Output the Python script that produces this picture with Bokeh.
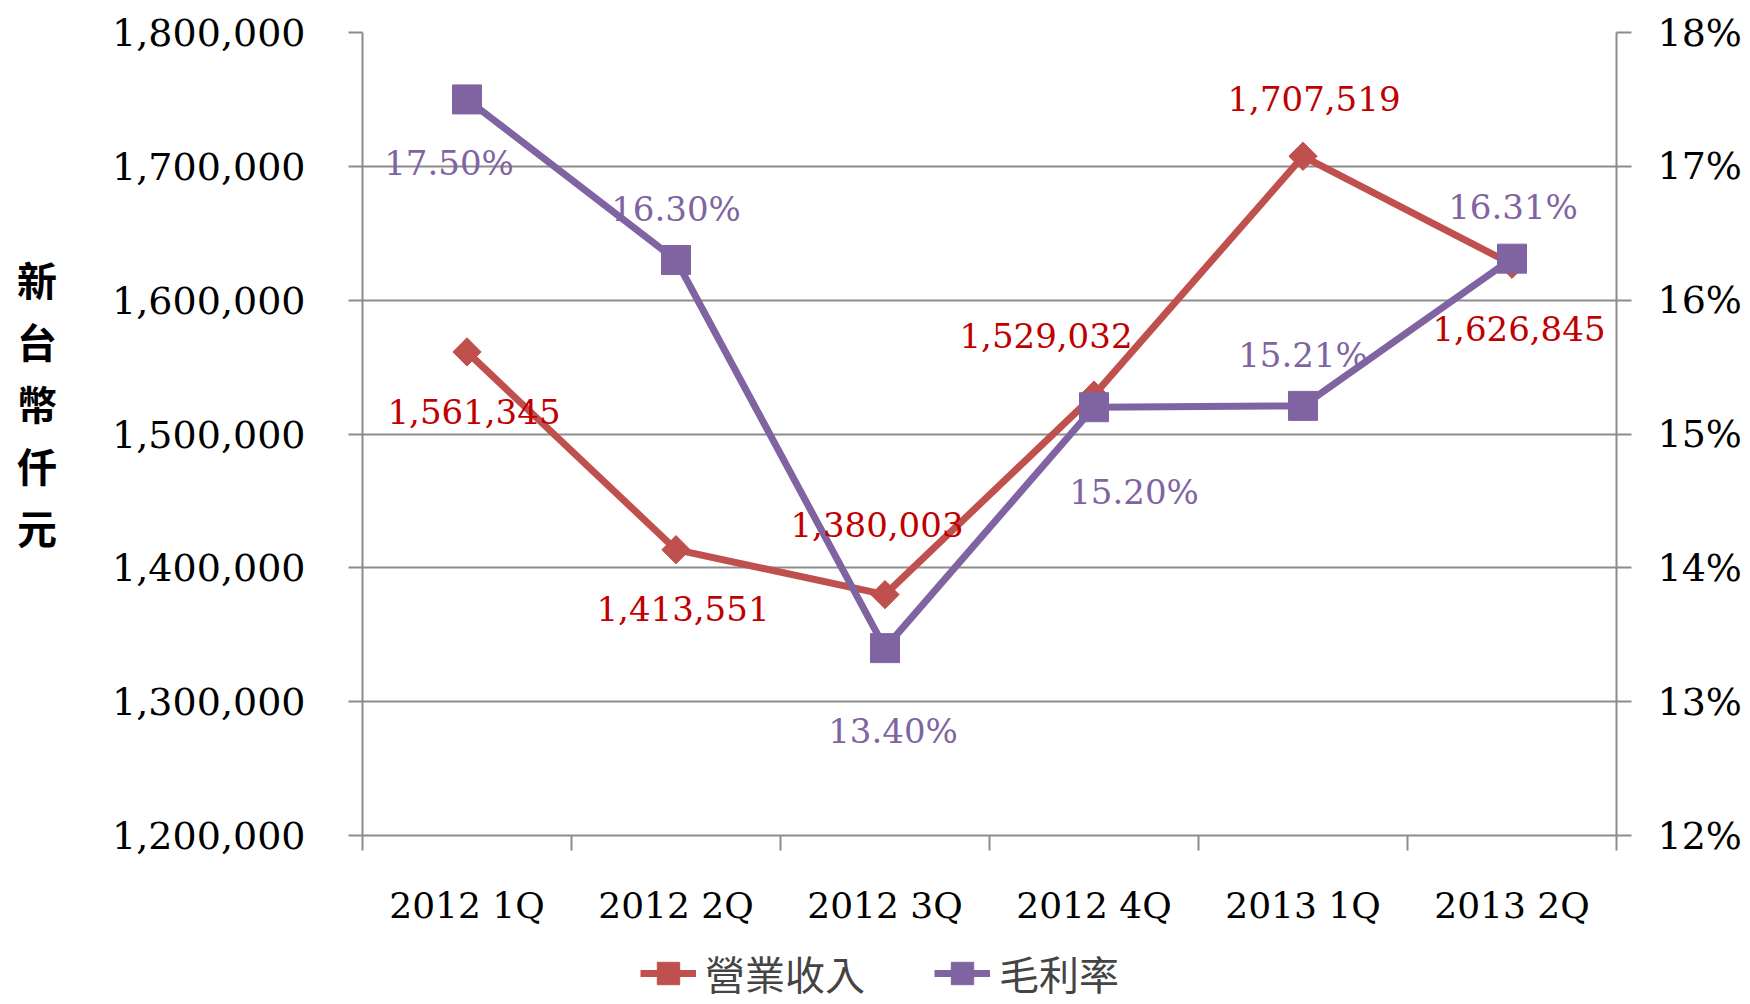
import numpy as np
from bokeh.plotting import figure
from bokeh.layouts import column
from bokeh.models import (Range1d, LinearAxis, FixedTicker, NumeralTickFormatter,
                          PrintfTickFormatter, Legend, LegendItem, ColumnDataSource)
from bokeh.embed import file_html
from bokeh.resources import INLINE
from bokeh.core.properties import value

# ---- data ----
categories = ["2012 1Q", "2012 2Q", "2012 3Q", "2012 4Q", "2013 1Q", "2013 2Q"]
revenue = [1561345, 1413551, 1380003, 1529032, 1707519, 1626845]
margin = [17.50, 16.30, 13.40, 15.20, 15.21, 16.31]
left_ticks = [1200000, 1300000, 1400000, 1500000, 1600000, 1700000, 1800000]
right_ticks = [12, 13, 14, 15, 16, 17, 18]
y_title = "新台幣仟元"
series_names = ["營業收入", "毛利率"]

# ---- label placement offsets (screen px) ----
rev_label_dx = [7, 7, -8, -48, 11, 7]
rev_label_dy = [60, 59, -70, -60, -58, 64]
mar_label_dx = [-18, 0, 8, 40, 0, 1]
mar_label_dy = [64, -51, 83, 85, -51, -52]

RED = "#C0504D"
RED_TXT = "#C00000"
PURPLE = "#8064A2"
GRID = "#8c8c8c"
NUM_FONT = "DejaVu Serif"
CJK_FONT = "Noto Sans CJK TC"
W = 1744

n = len(categories)
xs = [i + 0.5 for i in range(n)]

p = figure(width=W, height=938, output_backend="svg", toolbar_location=None,
           x_range=Range1d(0, n), y_range=Range1d(left_ticks[0], left_ticks[-1]),
           min_border_left=362, min_border_right=W - 1619, min_border_top=32, min_border_bottom=103)
p.outline_line_color = None
p.background_fill_color = "white"
p.border_fill_color = "white"

p.extra_y_ranges = {"pct": Range1d(right_ticks[0], right_ticks[-1])}

# left axis
ya = p.yaxis[0]
ya.ticker = FixedTicker(ticks=left_ticks)
ya.formatter = NumeralTickFormatter(format="0,0")
ya.axis_line_color = GRID
ya.axis_line_width = 2
ya.major_tick_line_color = GRID
ya.major_tick_line_width = 2
ya.major_tick_out = 14
ya.major_tick_in = 0
ya.minor_tick_line_color = None
ya.major_label_standoff = 43
ya.major_label_text_font = NUM_FONT
ya.major_label_text_font_size = "38px"
ya.major_label_text_color = "black"
ya.axis_label = "\n".join(y_title) + "\n"
ya.axis_label_orientation = "horizontal"
ya.axis_label_text_font = CJK_FONT
ya.axis_label_text_font_size = "40px"
ya.axis_label_text_font_style = "bold"
ya.axis_label_text_color = "black"
ya.axis_label_text_line_height = 1.07
ya.axis_label_standoff = 52

# right axis
ra = LinearAxis(y_range_name="pct", ticker=FixedTicker(ticks=right_ticks),
                formatter=PrintfTickFormatter(format="%d%%"))
ra.axis_line_color = GRID
ra.axis_line_width = 2
ra.major_tick_line_color = GRID
ra.major_tick_line_width = 2
ra.major_tick_out = 15
ra.major_tick_in = 0
ra.minor_tick_line_color = None
ra.major_label_standoff = 26
ra.major_label_text_font = NUM_FONT
ra.major_label_text_font_size = "38px"
ra.major_label_text_color = "black"
p.add_layout(ra, "right")

# bottom axis: labels at centers, ticks at boundaries
xa = p.xaxis[0]
xa.ticker = FixedTicker(ticks=xs, minor_ticks=list(range(n + 1)))
xa.major_label_overrides = {x: c for x, c in zip(xs, categories)}
xa.major_tick_line_color = None
xa.minor_tick_line_color = GRID
xa.minor_tick_line_width = 2
xa.minor_tick_out = 15
xa.minor_tick_in = 0
xa.axis_line_color = GRID
xa.axis_line_width = 2
xa.major_label_standoff = 34
xa.major_label_text_font = NUM_FONT
xa.major_label_text_font_size = "36px"
xa.major_label_text_color = "black"

p.xgrid.visible = False
p.ygrid.ticker = FixedTicker(ticks=left_ticks)
p.ygrid.grid_line_color = GRID
p.ygrid.grid_line_width = 2

# series
rline = p.line(xs, revenue, line_color=RED, line_width=7)
rmark = p.scatter(xs, revenue, marker="square", angle=np.pi / 4, size=20,
                  fill_color=RED, line_color=RED)
mline = p.line(xs, margin, line_color=PURPLE, line_width=7, y_range_name="pct")
mmark = p.scatter(xs, margin, marker="square", size=29, fill_color=PURPLE,
                  line_color=PURPLE, y_range_name="pct")

rsrc = ColumnDataSource(dict(x=xs, y=revenue, t=[f"{v:,}" for v in revenue],
                             dx=rev_label_dx, dy=rev_label_dy))
msrc = ColumnDataSource(dict(x=xs, y=margin, t=[f"{v:.2f}%" for v in margin],
                             dx=mar_label_dx, dy=mar_label_dy))
p.text(x="x", y="y", text="t", x_offset="dx", y_offset="dy", source=rsrc,
       text_color=RED_TXT, text_font=value(NUM_FONT), text_font_size="34px",
       text_align="center", text_baseline="middle")
p.text(x="x", y="y", text="t", x_offset="dx", y_offset="dy", source=msrc,
       text_color=PURPLE, text_font=value(NUM_FONT), text_font_size="34px",
       text_align="center", text_baseline="middle", y_range_name="pct")

# ---- legend strip below the chart (series drawn out of view, used only for legend) ----
lf = figure(width=W, height=64, output_backend="svg", toolbar_location=None,
            x_axis_type=None, y_axis_type=None, x_range=Range1d(0, 1), y_range=Range1d(0, 1),
            min_border=0)
lf.outline_line_color = None
lf.background_fill_color = "white"
lf.border_fill_color = "white"
lr_line = lf.line(xs, revenue, line_color=RED, line_width=7)
lr_mark = lf.scatter(xs, revenue, marker="square", angle=np.pi / 4, size=20,
                     fill_color=RED, line_color=RED)
lm_line = lf.line(xs, revenue, line_color=PURPLE, line_width=7)
lm_mark = lf.scatter(xs, revenue, marker="square", size=29, fill_color=PURPLE, line_color=PURPLE)

legend = Legend(items=[LegendItem(label=series_names[0], renderers=[lr_line, lr_mark]),
                       LegendItem(label=series_names[1], renderers=[lm_line, lm_mark])],
                location=(278, 0), orientation="horizontal")
legend.padding = 0
legend.margin = 0
legend.border_line_color = None
legend.background_fill_alpha = 0
legend.glyph_width = 56
legend.glyph_height = 56
legend.label_standoff = 9
legend.spacing = 69
legend.label_text_font = CJK_FONT
legend.label_text_font_size = "40px"
legend.label_text_baseline = "middle"
lf.add_layout(legend)

layout = column(p, lf, spacing=0)
open("out.html", "w").write(file_html(layout, INLINE))
